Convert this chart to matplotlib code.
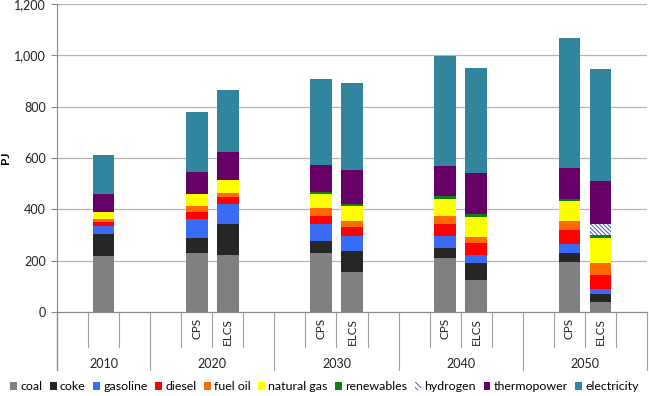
import matplotlib
matplotlib.use('Agg')
import matplotlib.pyplot as plt
import matplotlib.transforms as mtransforms
from matplotlib.patches import Patch
from matplotlib.ticker import FuncFormatter

plt.rcParams['font.family'] = ['Lato', 'DejaVu Sans']
plt.rcParams['hatch.linewidth'] = 0.6

# one entry per bar
bar_years = ['2010', '2020', '2020', '2030', '2030', '2040', '2040', '2050', '2050']
bar_cases = ['', 'CPS', 'ELCS', 'CPS', 'ELCS', 'CPS', 'ELCS', 'CPS', 'ELCS']
years = ['2010', '2020', '2030', '2040', '2050']

coal = [219, 231, 221, 231, 157, 210, 123, 195, 38]
coke = [84, 58, 123, 46, 81, 38, 66, 35, 34]
gasoline = [32, 74, 76, 67, 60, 47, 32, 35, 19]
diesel = [17, 27, 28, 31, 35, 47, 47, 55, 55]
fuel_oil = [10, 22, 17, 29, 21, 31, 26, 35, 43]
natural_gas = [29, 46, 49, 57, 60, 67, 78, 76, 101]
renewables = [0, 2, 2, 8, 8, 12, 9, 9, 9]
hydrogen = [0, 0, 0, 0, 0, 0, 0, 0, 42]
thermopower = [69, 86, 106, 102, 133, 117, 162, 122, 170]
electricity = [150, 232, 244, 338, 339, 428, 406, 505, 435]

series = [
    ('coal', coal, '#808080'),
    ('coke', coke, '#262626'),
    ('gasoline', gasoline, '#3A6BF5'),
    ('diesel', diesel, '#FF0000'),
    ('fuel oil', fuel_oil, '#FF6A00'),
    ('natural gas', natural_gas, '#FFFF00'),
    ('renewables', renewables, '#108010'),
    ('hydrogen', hydrogen, 'white'),
    ('thermopower', thermopower, '#660066'),
    ('electricity', electricity, '#31859C'),
]

# slot layout: 2010 group has 3 slots, other groups 4 slots
group_sizes = [3, 4, 4, 4, 4]
group_start = [0]
for s in group_sizes[:-1]:
    group_start.append(group_start[-1] + s)
n_slots = sum(group_sizes)

x = []
for yr, case in zip(bar_years, bar_cases):
    g = years.index(yr)
    off = 1 if case in ('', 'CPS') else 2
    x.append(group_start[g] + off)

fig = plt.figure(figsize=(6.49, 3.96), dpi=100)
ax = fig.add_axes([57 / 649, 1 - 312 / 396, 590 / 649, 308 / 396])

bottom = [0] * len(x)
handles = []
for name, vals, col in series:
    if name == 'hydrogen':
        ax.bar(x, vals, 0.7, bottom=bottom, color='white', edgecolor='#2B3BD0',
               hatch='\\\\\\\\\\\\\\\\', linewidth=0, zorder=3)
        handles.append(Patch(facecolor='white', edgecolor='#2B3BD0', hatch='\\\\\\\\\\\\', linewidth=0))
    else:
        ax.bar(x, vals, 0.7, bottom=bottom, color=col, linewidth=0, zorder=3)
        handles.append(Patch(facecolor=col, linewidth=0))
    bottom = [b + v for b, v in zip(bottom, vals)]

ax.set_xlim(-0.5, n_slots - 0.5)
ax.set_ylim(0, 1200)
ax.set_yticks(range(0, 1201, 200))
ax.yaxis.set_major_formatter(FuncFormatter(lambda v, p: f'{int(v):,}'))
ax.yaxis.grid(True, color='#B4B4B4', linewidth=0.9, zorder=0)
ax.set_axisbelow(True)
ax.tick_params(axis='y', labelsize=9, length=4, color='#888888', labelcolor='#222222', pad=4)
ax.set_xticks([])
for side in ['top', 'right']:
    ax.spines[side].set_visible(False)
ax.spines['left'].set_color('#888888')
ax.spines['bottom'].set_color('#888888')
ax.set_ylabel('PJ', fontsize=8.5, fontweight='bold')
ax.yaxis.set_label_coords(-46 / 590, 0.5)

# multi-level category axis
trans = mtransforms.blended_transform_factory(ax.transData, ax.transAxes)
short = -35 / 308
long_ = -58 / 308
group_edges = group_start + [n_slots]
for e in range(n_slots + 1):
    xe = e - 0.5
    yb = long_ if e in group_edges else short
    ax.plot([xe, xe], [0, yb], transform=trans, color='#A0A0A0', linewidth=0.8, clip_on=False)
ax.plot([-0.5, -0.5], [0, long_], transform=trans, color='#888888', linewidth=0.9, clip_on=False)

for xi, case in zip(x, bar_cases):
    if case:
        ax.text(xi, -6 / 308, case, transform=trans, rotation=90, ha='center', va='top',
                fontsize=8.5, color='#222222')

for g, yr in enumerate(years):
    xc = group_start[g] + group_sizes[g] / 2 - 0.5
    ax.text(xc, -52 / 308, yr, transform=trans, ha='center', va='center', fontsize=9, color='#222222')

fig.legend(handles, [s[0] for s in series], loc='center', bbox_to_anchor=(0.5, 1 - 387 / 396),
           ncol=10, frameon=False, fontsize=8.9, handlelength=0.55, handleheight=0.55,
           handletextpad=0.25, columnspacing=0.62, borderaxespad=0)

fig.savefig('out.png', dpi=100)
